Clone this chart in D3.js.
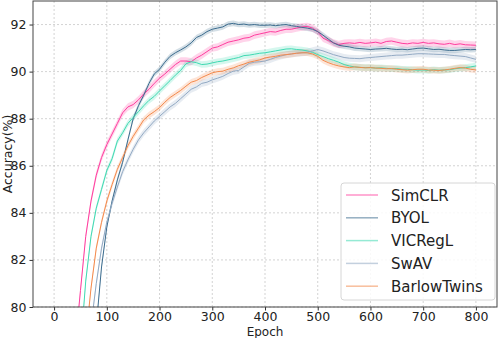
<!DOCTYPE html>
<html>
<head>
<meta charset="utf-8">
<script src="https://cdn.jsdelivr.net/npm/d3@7"></script>
<style>
  body { margin: 0; background: #fff; }
  text { font-family: "DejaVu Sans", sans-serif; }
</style>
</head>
<body>
<div id="main"></div>
<script>
// epochs sampled every 10
const epochs = [40, 50, 60, 70, 80, 90, 100, 110, 120, 130, 140, 150, 160, 170, 180, 190,
  200, 210, 220, 230, 240, 250, 260, 270, 280, 290, 300, 310, 320, 330, 340, 350, 360, 370, 380, 390,
  400, 410, 420, 430, 440, 450, 460, 470, 480, 490, 500, 510, 520, 530, 540, 550, 560, 570, 580, 590,
  600, 610, 620, 630, 640, 650, 660, 670, 680, 690, 700, 710, 720, 730, 740, 750, 760, 770, 780, 790, 800]

const simclr = [78.3, 80.7, 83.0, 84.5, 85.6, 86.35, 86.9, 87.35, 87.8, 88.25, 88.5, 88.6, 88.8, 89.05, 89.25, 89.5,
  89.72, 89.9, 90.1, 90.3, 90.45, 90.45, 90.42, 90.58, 90.7, 90.85, 91.0, 91.05, 91.15, 91.25, 91.3, 91.35, 91.42, 91.45, 91.55, 91.6,
  91.65, 91.7, 91.68, 91.75, 91.8, 91.8, 91.85, 91.9, 91.92, 91.85, 91.7, 91.42, 91.32, 91.22, 91.15, 91.2, 91.22, 91.2, 91.24, 91.2,
  91.22, 91.25, 91.2, 91.28, 91.3, 91.25, 91.2, 91.18, 91.22, 91.2, 91.24, 91.2, 91.22, 91.18, 91.16, 91.2, 91.15, 91.18, 91.14, 91.13, 91.12]

const byol = [70, 72, 74, 76, 79.2, 81.7, 83.4, 84.5, 85.4, 86.15, 87.1, 88.0, 88.55, 89.0, 89.5, 89.9,
  90.1, 90.4, 90.65, 90.8, 90.92, 91.05, 91.22, 91.45, 91.55, 91.7, 91.8, 91.85, 91.9, 92.02, 92.05, 92.0, 92.02, 91.98, 92.0, 91.97,
  91.97, 91.98, 91.95, 91.98, 92.0, 91.95, 91.92, 91.88, 91.85, 91.8, 91.7, 91.55, 91.38, 91.22, 91.12, 91.08, 91.05, 91.0, 90.98, 90.96,
  90.94, 90.96, 90.97, 90.99, 90.96, 90.94, 90.95, 90.93, 90.96, 90.99, 91.0, 90.97, 90.94, 90.95, 90.92, 90.9, 90.9, 90.92, 90.94, 90.93, 90.94]

const vicregl = [74, 78.2, 81.1, 83.0, 84.2, 85.0, 85.8, 86.3, 87.05, 87.4, 87.8, 88.05, 88.3, 88.55, 88.78, 88.95,
  89.18, 89.4, 89.62, 89.85, 90.05, 90.33, 90.42, 90.38, 90.3, 90.32, 90.37, 90.42, 90.45, 90.5, 90.55, 90.6, 90.68, 90.7, 90.74, 90.78,
  90.8, 90.84, 90.88, 90.92, 90.96, 90.97, 90.94, 90.92, 90.88, 90.82, 90.72, 90.64, 90.55, 90.48, 90.4, 90.3, 90.24, 90.2, 90.18, 90.17,
  90.17, 90.15, 90.16, 90.14, 90.12, 90.13, 90.1, 90.1, 90.08, 90.06, 90.07, 90.05, 90.08, 90.06, 90.07, 90.08, 90.12, 90.15, 90.17, 90.2, 90.24]

const swav = [70, 73.5, 76.5, 79.2, 81.0, 82.5, 83.6, 84.4, 85.1, 85.75, 86.25, 86.7, 87.1, 87.4, 87.65, 87.9,
  88.1, 88.3, 88.5, 88.65, 88.85, 89.05, 89.25, 89.35, 89.5, 89.55, 89.65, 89.72, 89.8, 89.92, 90.02, 90.05, 90.2, 90.35, 90.4, 90.42,
  90.45, 90.52, 90.6, 90.66, 90.72, 90.75, 90.78, 90.8, 90.82, 90.88, 90.94, 90.88, 90.8, 90.72, 90.66, 90.6, 90.57, 90.56, 90.55, 90.58,
  90.6, 90.62, 90.64, 90.66, 90.68, 90.7, 90.7, 90.72, 90.74, 90.76, 90.76, 90.75, 90.74, 90.73, 90.73, 90.7, 90.68, 90.66, 90.64, 90.58, 90.52]

const barlow = [72, 75.5, 78.6, 80.8, 82.5, 83.6, 84.5, 85.2, 85.85, 86.35, 86.85, 87.25, 87.6, 87.95, 88.15, 88.3,
  88.47, 88.7, 88.9, 89.05, 89.2, 89.38, 89.55, 89.62, 89.75, 89.85, 89.95, 90.0, 90.02, 90.1, 90.16, 90.25, 90.32, 90.4, 90.45, 90.5,
  90.58, 90.62, 90.65, 90.7, 90.72, 90.75, 90.78, 90.8, 90.8, 90.75, 90.65, 90.48, 90.38, 90.3, 90.24, 90.2, 90.17, 90.2, 90.18, 90.16,
  90.17, 90.15, 90.14, 90.12, 90.13, 90.1, 90.08, 90.06, 90.08, 90.1, 90.1, 90.07, 90.06, 90.05, 90.07, 90.1, 90.14, 90.17, 90.15, 90.1, 90.07]

const names = ["SimCLR", "BYOL", "VICRegL", "SwAV", "BarlowTwins"]
const seriesValues = [simclr, byol, vicregl, swav, barlow]
const bandStd = [0.16, 0.12, 0.14, 0.15, 0.14]
const xTicks = [0, 100, 200, 300, 400, 500, 600, 700, 800]
const yTicks = [80, 82, 84, 86, 88, 90, 92]

const colors = ["#ff3d9e", "#3d6d8f", "#40d9b2", "#93aac4", "#f48a4c"]

const W = 498, H = 338
const margin = { top: 1, right: 1, bottom: 31, left: 33 }
const width = W - margin.left - margin.right,
    height = H - margin.top - margin.bottom

const svg = d3.select("#main")
    .append("svg")
    .attr("width", W)
    .attr("height", H)

const g = svg.append("g")
    .attr("transform", `translate(${margin.left},${margin.top})`)

const x = d3.scaleLinear().domain([-40, 840]).range([0, width])
const y = d3.scaleLinear().domain([80, 93]).range([height, 0])

// grid
g.append("g")
    .selectAll("line")
    .data(xTicks)
    .join("line")
    .attr("x1", d => x(d)).attr("x2", d => x(d))
    .attr("y1", 0).attr("y2", height)
    .attr("stroke", "#c8c8c8").attr("stroke-width", 0.8)
    .attr("stroke-dasharray", "2,2")

g.append("g")
    .selectAll("line")
    .data(yTicks)
    .join("line")
    .attr("x1", 0).attr("x2", width)
    .attr("y1", d => y(d)).attr("y2", d => y(d))
    .attr("stroke", "#c8c8c8").attr("stroke-width", 0.8)
    .attr("stroke-dasharray", "2,2")

svg.append("clipPath").attr("id", "clip")
    .append("rect").attr("width", width).attr("height", height)

const plot = g.append("g").attr("clip-path", "url(#clip)")

const area = d3.area()
    .x((d, i) => x(epochs[i]))
    .y0(d => y(d.v - d.s))
    .y1(d => y(d.v + d.s))

const line = d3.line()
    .x((d, i) => x(epochs[i]))
    .y(d => y(d))

seriesValues.forEach((vals, k) => {
    plot.append("path")
        .datum(vals.map(v => ({ v: v, s: bandStd[k] })))
        .attr("d", area)
        .attr("fill", colors[k])
        .attr("opacity", 0.22)
})
seriesValues.forEach((vals, k) => {
    plot.append("path")
        .datum(vals)
        .attr("d", line)
        .attr("fill", "none")
        .attr("stroke", colors[k])
        .attr("stroke-width", 1)
})

// axes
const xAxis = g.append("g")
    .attr("transform", `translate(0,${height})`)
    .call(d3.axisBottom(x).tickValues(xTicks).tickSize(3.5).tickPadding(1.5))
const yAxis = g.append("g")
    .call(d3.axisLeft(y).tickValues(yTicks).tickSize(3.5).tickPadding(3))

;[xAxis, yAxis].forEach(a => {
    a.select(".domain").remove()
    a.selectAll("line").attr("stroke", "#333")
    a.selectAll("text").style("font-size", "12.5px").attr("fill", "#222")
})

// frame
g.append("rect")
    .attr("width", width).attr("height", height)
    .attr("fill", "none").attr("stroke", "#444").attr("stroke-width", 1)

svg.append("text")
    .attr("x", margin.left + x(400))
    .attr("y", 335.5)
    .style("text-anchor", "middle")
    .style("font-size", "12px")
    .attr("fill", "#222")
    .text("Epoch")

svg.append("text")
    .attr("transform", "rotate(-90)")
    .attr("x", -(margin.top + height / 2))
    .attr("y", 12)
    .style("text-anchor", "middle")
    .style("font-size", "12.5px")
    .attr("fill", "#222")
    .text("Accuracy(%)")

// legend
const legend = svg.append("g").attr("transform", "translate(341,183)")
legend.append("rect")
    .attr("width", 154).attr("height", 117)
    .attr("rx", 3)
    .attr("fill", "white").attr("fill-opacity", 0.85)
    .attr("stroke", "#d6d6d6")

names.forEach((n, k) => {
    const yy = 12 + k * 22.8
    legend.append("line")
        .attr("x1", 5).attr("x2", 37)
        .attr("y1", yy).attr("y2", yy)
        .attr("stroke", colors[k]).attr("stroke-width", 1.5)
        .attr("opacity", 0.55)
    legend.append("text")
        .attr("x", 50).attr("y", yy + 5.5)
        .style("font-size", "15px")
        .attr("fill", "#222")
        .text(n)
})
</script>
</body>
</html>
